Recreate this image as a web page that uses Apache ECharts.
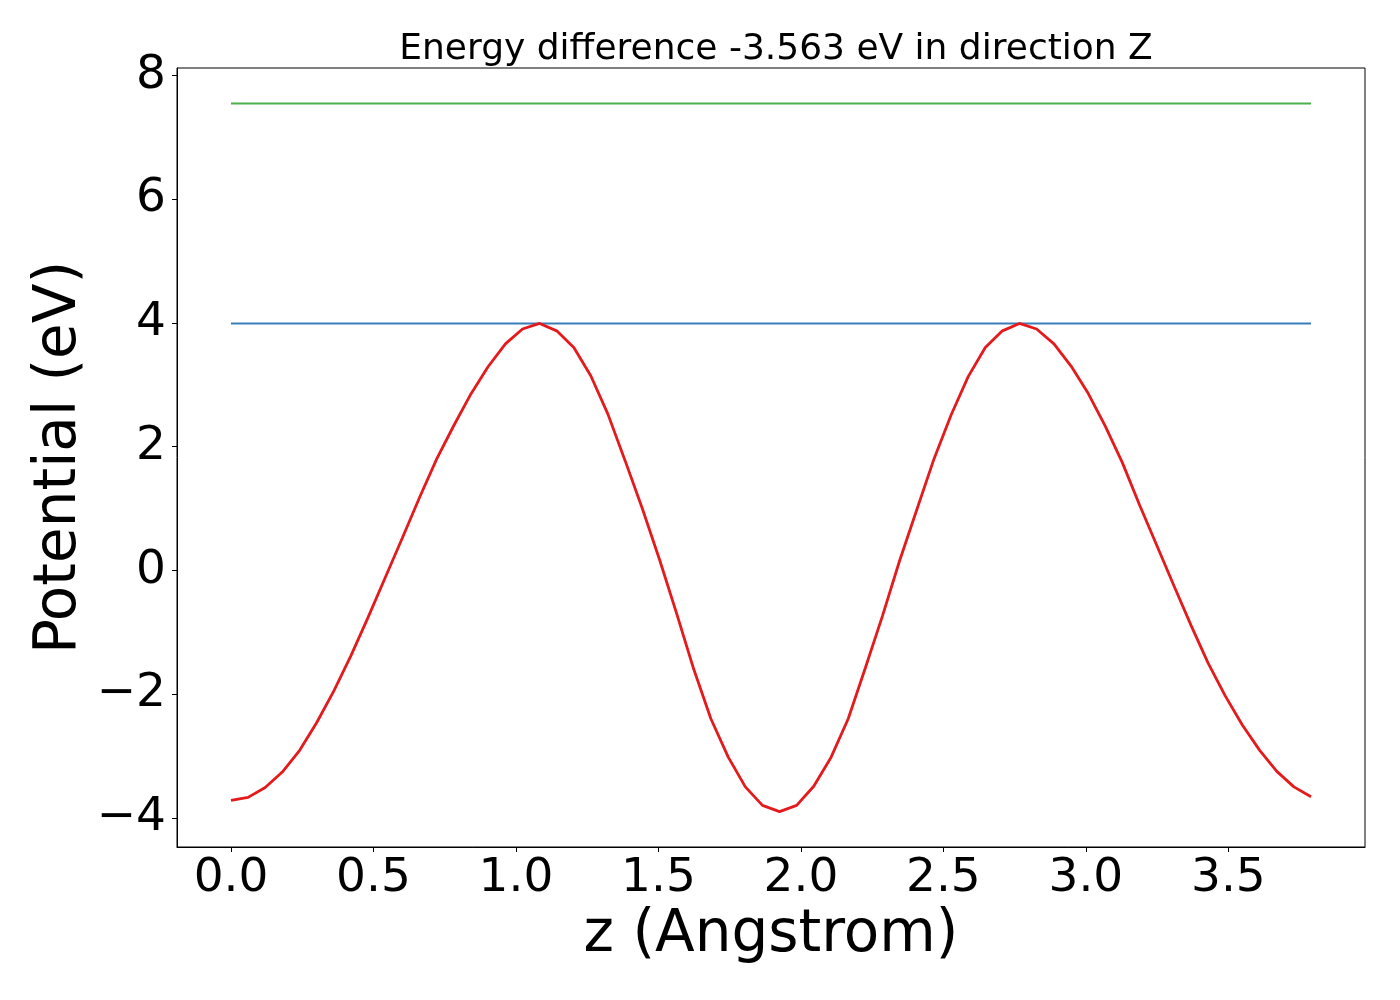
<!DOCTYPE html>
<html>
<head>
<meta charset="utf-8">
<title>Energy difference</title>
<script src="https://cdn.jsdelivr.net/npm/echarts@6.0.0/dist/echarts.min.js"></script>
<style>
  html, body { margin: 0; padding: 0; background: #fff; }
  #main { width: 1400px; height: 1000px; }
</style>
</head>
<body>
<div id="main"></div>
<script>
// z positions (Angstrom) of the planar-averaged potential
var z = [
  0.000, 0.060, 0.120, 0.180, 0.241, 0.301, 0.361, 0.421, 0.481, 0.541,
  0.602, 0.662, 0.722, 0.782, 0.842, 0.902, 0.963, 1.023, 1.083, 1.143,
  1.203, 1.263, 1.323, 1.384, 1.444, 1.504, 1.564, 1.624, 1.684, 1.745,
  1.805, 1.865, 1.925, 1.985, 2.045, 2.106, 2.166, 2.226, 2.286, 2.346,
  2.406, 2.467, 2.527, 2.587, 2.647, 2.707, 2.767, 2.827, 2.888, 2.948,
  3.008, 3.068, 3.128, 3.188, 3.249, 3.309, 3.369, 3.429, 3.489, 3.549,
  3.610, 3.670, 3.730, 3.790
];
// potential (eV)
var potential = [
  -3.72, -3.67, -3.51, -3.26, -2.91, -2.46, -1.95, -1.38, -0.76, -0.12,
   0.53,  1.18,  1.80,  2.34,  2.85,  3.29,  3.66,  3.90,  3.99,  3.87,
   3.60,  3.14,  2.52,  1.76,  0.99,  0.17, -0.70, -1.60, -2.40, -3.02,
  -3.50, -3.80, -3.90, -3.80, -3.49, -3.02, -2.40, -1.58, -0.74,  0.15,
   0.97,  1.80,  2.51,  3.13,  3.60,  3.87,  3.99,  3.90,  3.66,  3.30,
   2.86,  2.33,  1.74,  1.06,  0.40, -0.25, -0.89, -1.50, -2.03, -2.50,
  -2.91, -3.25, -3.50, -3.66
];
// horizontal reference levels (eV)
var maxLevel = 3.99;
var vacuumLevel = 7.546;

var xTicks = [0, 0.5, 1.0, 1.5, 2.0, 2.5, 3.0, 3.5];
var yTicks = [-4, -2, 0, 2, 4, 6, 8];

var font = 'DejaVu Sans';

var curve = z.map(function (v, i) { return [v, potential[i]]; });
var zEnd = z[z.length - 1];

var myChart = echarts.init(document.getElementById('main'));
myChart.setOption({
    animation: false,
    title: {
        text: 'Energy difference -3.563 eV in direction Z',
        left: 771,
        top: 27,
        textAlign: 'center',
        textStyle: { fontFamily: font, fontSize: 36, fontWeight: 'normal', color: '#000' }
    },
    grid: {
        left: 177, right: 35, top: 68, bottom: 153,
        show: true, borderColor: '#000', borderWidth: 1
    },
    xAxis: {
        type: 'value',
        min: -0.1895,
        max: 3.9795,
        name: 'z (Angstrom)',
        nameLocation: 'middle',
        nameGap: 60,
        nameMoveOverlap: false,
        nameTextStyle: { fontFamily: font, fontSize: 58, color: '#000' },
        axisLine: { show: true, onZero: false, lineStyle: { color: '#000', width: 1 } },
        axisTick: { show: true, length: 5, lineStyle: { color: '#000' }, customValues: xTicks },
        axisLabel: {
            customValues: xTicks,
            margin: 8,
            fontFamily: font, fontSize: 47, color: '#000',
            formatter: function (v) { return v.toFixed(1); }
        },
        splitLine: { show: false }
    },
    yAxis: {
        type: 'value',
        min: -4.472,
        max: 8.118,
        name: 'Potential (eV)',
        nameLocation: 'middle',
        nameGap: 88,
        nameMoveOverlap: false,
        nameTextStyle: { fontFamily: font, fontSize: 58, color: '#000' },
        axisLine: { show: true, onZero: false, lineStyle: { color: '#000', width: 1 } },
        axisTick: { show: true, length: 5, lineStyle: { color: '#000' }, customValues: yTicks },
        axisLabel: {
            customValues: yTicks,
            margin: 11,
            fontFamily: font, fontSize: 47, color: '#000',
            formatter: function (v) { return String(v).replace('-', '\u2212'); }
        },
        splitLine: { show: false }
    },
    series: [
        {
            type: 'line',
            data: curve,
            showSymbol: false,
            lineStyle: { color: '#e41a1c', width: 2.8 },
            z: 3
        },
        {
            type: 'line',
            data: [[z[0], maxLevel], [zEnd, maxLevel]],
            showSymbol: false,
            lineStyle: { color: '#377eb8', width: 2 },
            z: 2
        },
        {
            type: 'line',
            data: [[z[0], vacuumLevel], [zEnd, vacuumLevel]],
            showSymbol: false,
            lineStyle: { color: '#4daf4a', width: 2 },
            z: 2
        }
    ]
});
</script>
</body>
</html>
